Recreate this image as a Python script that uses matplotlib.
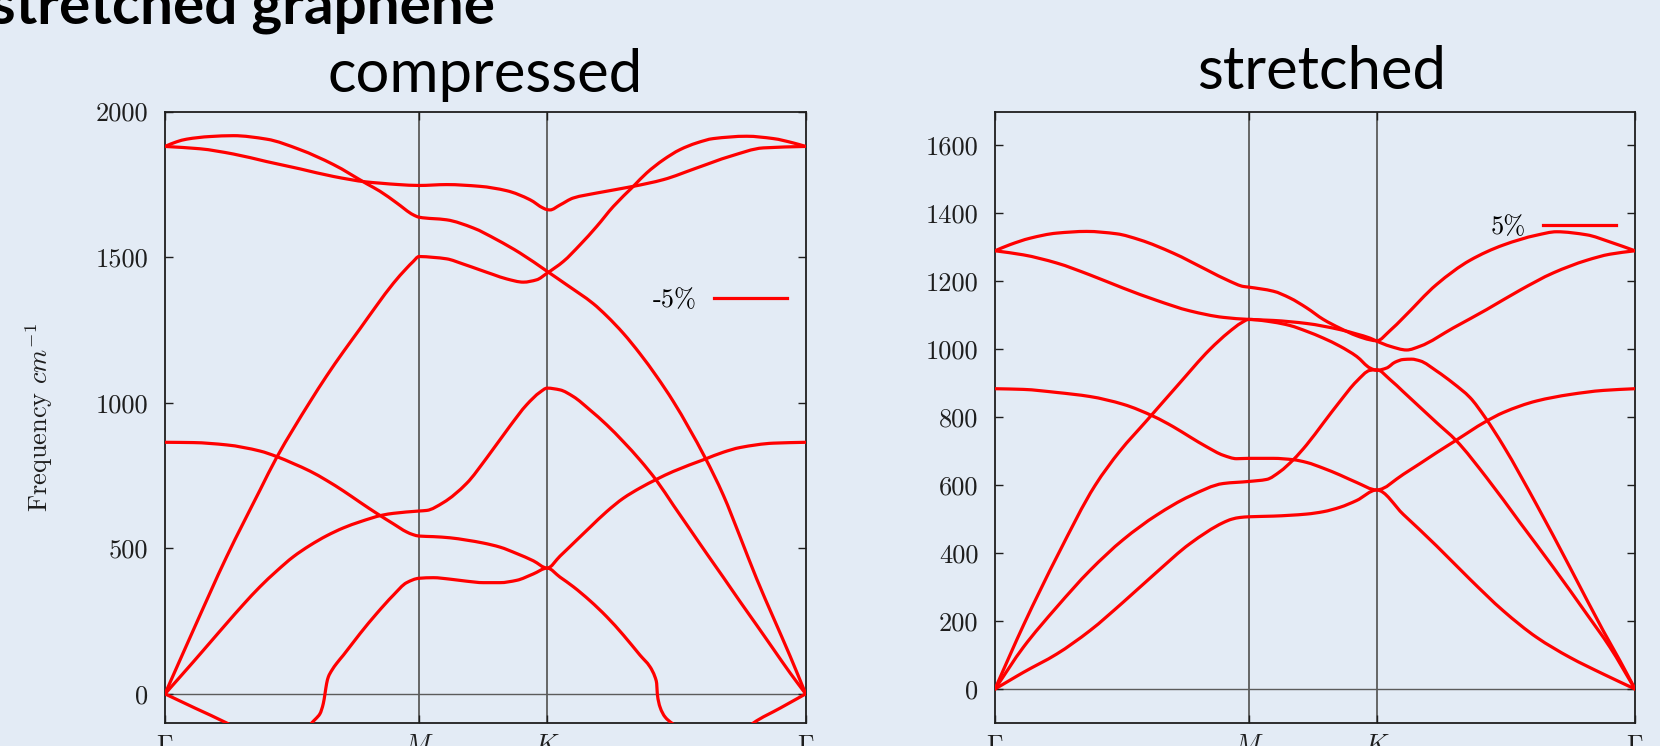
import numpy as np
import matplotlib
matplotlib.use("Agg")
import matplotlib.pyplot as plt
from matplotlib.lines import Line2D
from matplotlib.path import Path
from matplotlib.patches import PathPatch

plt.rcParams["mathtext.fontset"] = "cm"
plt.rcParams["axes.formatter.use_mathtext"] = True

# ---- high-symmetry path ----
HS_POS = [0.0, 0.3965, 0.5965, 1.0]
HS_LABELS = [r"$\Gamma$", r"$M$", r"$K$", r"$\Gamma$"]

# ---- compressed (-5%) phonon branches: path coordinate, frequency (cm^-1) ----
cmp_k1 = [0.0, 0.048, 0.0963, 0.150, 0.200, 0.215, 0.2289, 0.2360, 0.2419, 0.2471, 0.2497, 0.2523,
          0.2549, 0.2601, 0.2680, 0.2784, 0.3044, 0.3304, 0.3564, 0.3772, 0.3965, 0.4188, 0.4448,
          0.4708, 0.4968, 0.5229, 0.5489, 0.5749, 0.5965, 0.6165, 0.6373, 0.6633, 0.6894, 0.7154,
          0.7414, 0.7570, 0.7648, 0.7674, 0.7684, 0.7726, 0.7804, 0.7908, 0.830, 0.880, 0.905,
          0.9183, 0.960, 1.0]
cmp_w1 = [0, -50, -100, -165, -190, -150, -100, -84, -68, -33, 0, 36, 58, 80, 105, 133, 207, 276,
          339, 382, 397, 399, 394, 387, 382, 382, 390, 412, 432, 401, 368, 320, 265, 202, 133, 93,
          58, 36, 0, -45, -79, -100, -150, -160, -125, -100, -49, 0]

cmp_k2 = [0.0, 0.0442, 0.0702, 0.0962, 0.1223, 0.1483, 0.1743, 0.2003, 0.2263, 0.2523, 0.2784,
          0.3044, 0.3397, 0.3564, 0.3965, 0.4084, 0.4344, 0.4708, 0.5020, 0.5385, 0.5645, 0.5853,
          0.5965, 0.6165, 0.6373, 0.6633, 0.6894, 0.7154, 0.7414, 0.7674, 0.7934, 0.8194, 0.8454,
          0.8715, 0.8975, 0.9235, 0.9495, 0.9756, 1.0]
cmp_w2 = [0, 110, 176, 242, 307, 368, 422, 471, 510, 543, 570, 591, 614, 620, 628, 630, 657, 723,
          810, 920, 993, 1036, 1050, 1044, 1021, 975, 924, 866, 803, 732, 648, 565, 482, 400, 317,
          236, 154, 72, 0]

cmp_k3 = [0.0, 0.0442, 0.0962, 0.1483, 0.1743, 0.2003, 0.2263, 0.2523, 0.2784, 0.3044, 0.3304,
          0.3564, 0.3772, 0.3870, 0.3965, 0.4188, 0.4448, 0.4708, 0.4968, 0.5229, 0.5489, 0.5749,
          0.5965, 0.6165, 0.6373, 0.6633, 0.6894, 0.7154, 0.7414, 0.7674, 0.7934, 0.8428, 0.8715,
          0.8975, 0.9495, 1.0]
cmp_w3 = [864, 863, 855, 834, 815, 791, 765, 733, 697, 658, 620, 584, 556, 547, 542, 540, 536, 528,
          518, 504, 482, 457, 432, 473, 517, 572, 626, 672, 707, 737, 764, 806, 830, 846, 861, 864]

cmp_k4 = [0.0, 0.0442, 0.0962, 0.1483, 0.1743, 0.2003, 0.2263, 0.2523, 0.2784, 0.3044, 0.3304,
          0.3564, 0.3772, 0.3870, 0.3965, 0.4188, 0.4396, 0.4656, 0.4916, 0.5125, 0.5333, 0.5593,
          0.5801, 0.5965, 0.6217, 0.6477, 0.6737, 0.6998, 0.7310, 0.7518, 0.7778, 0.8038, 0.8298,
          0.8559, 0.9079, 0.9495, 0.9807, 1.0]
cmp_w4 = [0, 219, 471, 700, 812, 910, 1003, 1092, 1175, 1254, 1334, 1410, 1462, 1484, 1502, 1499,
          1494, 1476, 1456, 1440, 1425, 1414, 1422, 1445, 1485, 1542, 1605, 1674, 1743, 1789, 1834,
          1869, 1892, 1907, 1915, 1907, 1892, 1880]

cmp_k5 = [0.0, 0.0546, 0.1067, 0.1587, 0.2107, 0.2627, 0.3147, 0.3356, 0.3650, 0.3965, 0.4396,
          0.4916, 0.5333, 0.5697, 0.5905, 0.5965, 0.6009, 0.6165, 0.6373, 0.6737, 0.7310, 0.7778,
          0.8298, 0.8819, 0.9339, 1.0]
cmp_w5 = [1880, 1872, 1854, 1828, 1803, 1777, 1758, 1754, 1749, 1746, 1749, 1743, 1728, 1697, 1668,
          1663, 1662, 1679, 1703, 1720, 1743, 1766, 1806, 1846, 1875, 1880]

cmp_k6 = [0.0, 0.0182, 0.0338, 0.0702, 0.1067, 0.1587, 0.2107, 0.2627, 0.3147, 0.3356, 0.3616,
          0.3876, 0.3965, 0.4396, 0.4812, 0.5177, 0.5541, 0.5965, 0.6269, 0.6685, 0.6894, 0.7154,
          0.7414, 0.7674, 0.7934, 0.8428, 0.8715, 0.8975, 0.9235, 0.9495, 0.9756, 1.0]
cmp_w6 = [1880, 1896, 1905, 1914, 1917, 1905, 1869, 1818, 1752, 1726, 1686, 1645, 1637, 1628, 1600,
          1560, 1514, 1451, 1405, 1340, 1298, 1238, 1168, 1090, 1004, 812, 682, 540, 395, 262, 130, 0]

# ---- stretched (+5%) phonon branches ----
str_k1 = [0.0, 0.0234, 0.0443, 0.0964, 0.1484, 0.2005, 0.2526, 0.3047, 0.3568, 0.3700, 0.3828,
          0.3965, 0.4349, 0.4870, 0.5130, 0.5391, 0.5651, 0.5965, 0.6380, 0.6901, 0.7422, 0.7943,
          0.8464, 0.8984, 0.9505, 1.0]
str_w1 = [0, 26, 49, 103, 172, 256, 344, 428, 490, 500, 505, 507, 509, 515, 522, 535, 555, 586, 514,
          421, 323, 230, 152, 93, 44, 0]

str_k2 = [0.0, 0.0443, 0.0964, 0.1484, 0.2005, 0.2526, 0.3047, 0.3568, 0.3965, 0.4245, 0.4453,
          0.4661, 0.4870, 0.5130, 0.5391, 0.5651, 0.5859, 0.5965, 0.6172, 0.6380, 0.6901, 0.7203,
          0.7682, 0.8203, 0.8724, 0.9245, 0.9609, 1.0]
str_w2 = [0, 123, 241, 349, 440, 512, 568, 605, 611, 617, 640, 675, 719, 783, 847, 906, 938, 940,
          911, 875, 784, 732, 622, 490, 358, 221, 123, 0]

str_k3 = [0.0, 0.0443, 0.0964, 0.1484, 0.2005, 0.2484, 0.2786, 0.3047, 0.3307, 0.3568, 0.3776,
          0.3965, 0.4349, 0.4661, 0.4870, 0.5130, 0.5391, 0.5651, 0.5965, 0.6380, 0.6901, 0.7203,
          0.7656, 0.7943, 0.8464, 0.8984, 0.9505, 1.0]
str_w3 = [884, 882, 873, 861, 838, 802, 772, 742, 713, 688, 678, 679, 679, 675, 667, 650, 630, 608,
          586, 632, 696, 732, 786, 814, 848, 867, 879, 884]

str_k4 = [0.0, 0.0234, 0.0450, 0.0990, 0.1563, 0.1950, 0.2370, 0.2850, 0.3359, 0.3650, 0.3850,
          0.3965, 0.4349, 0.4609, 0.4870, 0.5130, 0.5391, 0.5651, 0.5859, 0.5965, 0.6120, 0.6250,
          0.6380, 0.6510, 0.6641, 0.6901, 0.7161, 0.7422, 0.7656, 0.7943, 0.8464, 0.8984, 0.9505,
          0.9766, 1.0]
str_w4 = [0, 100, 190, 398, 599, 700, 790, 893, 1000, 1050, 1078, 1088, 1080, 1070, 1053, 1033,
          1009, 979, 945, 938, 945, 962, 970, 971, 966, 936, 900, 858, 800, 716, 542, 358, 171, 83, 0]

str_k5 = [0.0, 0.0443, 0.0964, 0.1484, 0.2005, 0.2526, 0.3047, 0.3568, 0.3965, 0.4349, 0.4870,
          0.5391, 0.5651, 0.5859, 0.5965, 0.6172, 0.6432, 0.6641, 0.7161, 0.7682, 0.8203, 0.8724,
          0.9245, 0.9609, 1.0]
str_w5 = [1290, 1278, 1254, 1219, 1180, 1144, 1113, 1094, 1088, 1085, 1076, 1058, 1045, 1033, 1024,
          1009, 998, 1009, 1063, 1117, 1174, 1225, 1262, 1280, 1290]

str_k6 = [0.0, 0.0234, 0.0547, 0.0964, 0.1432, 0.1901, 0.2266, 0.2786, 0.3307, 0.3672, 0.3880,
          0.3965, 0.4349, 0.4609, 0.4870, 0.5130, 0.5391, 0.5651, 0.5859, 0.5965, 0.6172, 0.6380,
          0.6901, 0.7422, 0.7943, 0.8464, 0.8776, 0.9245, 0.9609, 1.0]
str_w6 = [1290, 1308, 1327, 1342, 1347, 1340, 1322, 1283, 1234, 1200, 1185, 1183, 1171, 1151, 1122,
          1088, 1062, 1040, 1028, 1025, 1055, 1093, 1191, 1262, 1307, 1336, 1346, 1337, 1316, 1290]

CMP_TICKS = [0, 500, 1000, 1500, 2000]
STR_TICKS = [0, 200, 400, 600, 800, 1000, 1200, 1400, 1600]

BG = "#e3ebf5"
RED = "#ff0000"
GRID = "#5b5b5b"
INK = "#1e1e1e"
W, H = 1660, 746


def branch_path(k, w):
    """Smooth monotone (Fritsch-Carlson) cubic through the sampled points, as Bezier segments."""
    x = np.asarray(k, float)
    y = np.asarray(w, float)
    h = np.diff(x)
    d = np.diff(y) / h
    m = np.empty_like(x)
    m[0], m[-1] = d[0], d[-1]
    for i in range(1, len(x) - 1):
        if d[i - 1] * d[i] <= 0:
            m[i] = 0.0
        else:
            w1 = 2 * h[i] + h[i - 1]
            w2 = h[i] + 2 * h[i - 1]
            m[i] = (w1 + w2) / (w1 / d[i - 1] + w2 / d[i])
    verts = [(x[0], y[0])]
    codes = [Path.MOVETO]
    for i in range(len(h)):
        verts += [(x[i] + h[i] / 3, y[i] + m[i] * h[i] / 3),
                  (x[i + 1] - h[i] / 3, y[i + 1] - m[i + 1] * h[i] / 3),
                  (x[i + 1], y[i + 1])]
        codes += [Path.CURVE4] * 3
    return Path(verts, codes)


fig = plt.figure(figsize=(W / 100, H / 100), dpi=100, facecolor=BG)
ax1 = fig.add_axes([165 / W, 23 / H, 640.7 / W, 611.5 / H])
ax2 = fig.add_axes([995 / W, 23 / H, 640.0 / W, 611.5 / H])


def panel(ax, branches, ylim, yticks, title, title_pad, title_x, label, anchor):
    ax.set_facecolor(BG)
    for k, w in branches:
        ax.add_patch(PathPatch(branch_path(k, w), facecolor="none", edgecolor=RED, lw=2.3,
                               joinstyle="round", capstyle="round", zorder=3))
    for p in HS_POS[1:-1]:
        ax.axvline(p, color=GRID, lw=1.3, zorder=1)
    ax.axhline(0, color=GRID, lw=1.0, zorder=1)
    ax.set_xlim(0, 1)
    ax.set_ylim(*ylim)
    ax.set_xticks(HS_POS, labels=HS_LABELS)
    ax.set_yticks(yticks, labels=[str(v) for v in yticks])
    for lab in ax.get_yticklabels():
        lab.set_family("cmr10")
    ax.tick_params(direction="in", length=5.5, width=1.0, top=True, right=True,
                   labelsize=19, colors=INK)
    ax.tick_params(axis="y", pad=12)
    ax.tick_params(axis="x", pad=7)
    for s in ax.spines.values():
        s.set_color(INK)
        s.set_linewidth(1.3)
    ax.set_title(title, fontsize=43, family="Lato", color="black", pad=title_pad, x=title_x)
    handle = Line2D([], [], color=RED, lw=2.3)
    ax.legend([handle], [label], loc="center right", bbox_to_anchor=anchor,
              frameon=False, markerfirst=False, handlelength=2.77, handletextpad=0.64,
              borderpad=0, borderaxespad=0, prop={"family": "cmr10", "size": 19})


panel(ax1,
      [(cmp_k1, cmp_w1), (cmp_k2, cmp_w2), (cmp_k3, cmp_w3),
       (cmp_k4, cmp_w4), (cmp_k5, cmp_w5), (cmp_k6, cmp_w6)],
      (-100, 2000), CMP_TICKS, "compressed", 14, 0.5, "-5%", (0.9708, 0.6917))
panel(ax2,
      [(str_k1, str_w1), (str_k2, str_w2), (str_k3, str_w3),
       (str_k4, str_w4), (str_k5, str_w5), (str_k6, str_w6)],
      (-100, 1700), STR_TICKS, "stretched", 16, 0.51, "5%", (0.9703, 0.8105))

ax1.set_ylabel(r"Frequency $cm^{-1}$", fontsize=19, family="cmr10", color=INK)
ax1.yaxis.set_label_coords(-0.171, 0.5)

fig.text(495 / W, 1 - 23 / H, "stretched graphene", ha="right", va="baseline",
         fontsize=42, fontweight="bold", family="Lato", color="black")

fig.savefig("out.png", dpi=100, facecolor=BG)
